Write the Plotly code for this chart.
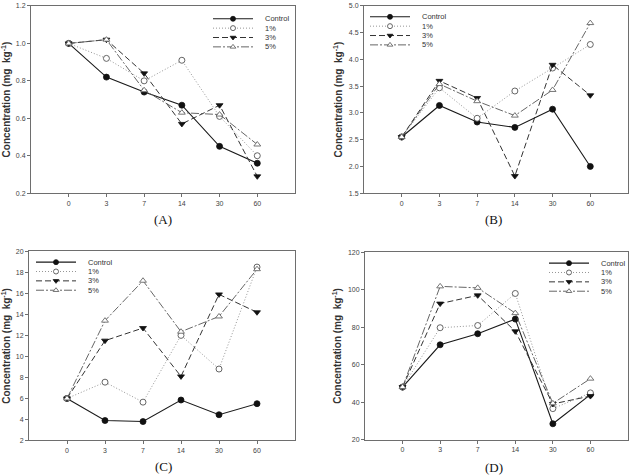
import plotly.graph_objects as go

days = ["0", "3", "7", "14", "30", "60"]
series_names = ["Control", "1%", "3%", "5%"]

a_control = [1.00, 0.82, 0.74, 0.67, 0.45, 0.36]
a_1 = [1.00, 0.92, 0.80, 0.91, 0.61, 0.40]
a_3 = [1.00, 1.02, 0.84, 0.57, 0.67, 0.29]
a_5 = [1.00, 1.02, 0.75, 0.63, 0.62, 0.46]

b_control = [2.55, 3.14, 2.83, 2.73, 3.07, 2.00]
b_1 = [2.55, 3.47, 2.90, 3.41, 3.84, 4.28]
b_3 = [2.55, 3.60, 3.28, 1.82, 3.90, 3.33]
b_5 = [2.55, 3.54, 3.22, 2.95, 3.43, 4.68]

c_control = [6.0, 3.9, 3.8, 5.85, 4.45, 5.5]
c_1 = [6.0, 7.55, 5.65, 12.0, 8.8, 18.5]
c_3 = [6.0, 11.5, 12.7, 8.1, 15.9, 14.2]
c_5 = [6.0, 13.4, 17.2, 12.35, 13.8, 18.3]

d_control = [48.0, 70.6, 76.5, 84.3, 28.4, 44.0]
d_1 = [48.0, 79.7, 80.9, 98.0, 36.5, 44.9]
d_3 = [48.0, 92.6, 97.0, 77.8, 39.0, 43.2]
d_5 = [48.0, 101.8, 101.0, 87.5, 39.3, 52.5]

panels = [
    dict(label="(A)", data=[a_control, a_1, a_3, a_5], yr=[0.2, 1.2], dt=0.2, fmt=".1f"),
    dict(label="(B)", data=[b_control, b_1, b_3, b_5], yr=[1.5, 5.0], dt=0.5, fmt=".1f"),
    dict(label="(C)", data=[c_control, c_1, c_3, c_5], yr=[2, 20], dt=2, fmt="d"),
    dict(label="(D)", data=[d_control, d_1, d_3, d_5], yr=[20, 120], dt=20, fmt="d"),
]

W, H = 629, 476
# panel frames in pixels: left, right, top, bottom
frames = [(31, 295, 2, 192), (364, 628, 2, 192), (29, 295, 251, 443), (365, 628, 252, 442)]
label_pos = [(163, 219), (493, 219), (163, 469), (494, 470)]
legend_pos = [(213, 15), (370, 13), (36, 262), (549, 263)]

styles = [
    dict(line=dict(color="#1a1a1a", width=1.1, dash="solid"),
         marker=dict(symbol="circle", color="#111111", line=dict(color="#111111", width=0.8))),
    dict(line=dict(color="#8a8a8a", width=0.9, dash="1px,2px"),
         marker=dict(symbol="circle", color="white", line=dict(color="#555555", width=0.9))),
    dict(line=dict(color="#333333", width=1.0, dash="6px,3px"),
         marker=dict(symbol="triangle-down", color="#111111", line=dict(color="#111111", width=0.8))),
    dict(line=dict(color="#555555", width=0.9, dash="8px,2px,2px,2px"),
         marker=dict(symbol="triangle-up", color="white", line=dict(color="#666666", width=0.9))),
]

fig = go.Figure()
xs = list(range(1, len(days) + 1))

for i, p in enumerate(panels):
    n = i + 1
    xa = "x" if n == 1 else f"x{n}"
    ya = "y" if n == 1 else f"y{n}"
    for s, (name, vals) in enumerate(zip(series_names, p["data"])):
        st = styles[s]
        fig.add_trace(go.Scatter(
            x=xs, y=vals, name=name, mode="lines+markers", xaxis=xa, yaxis=ya,
            line=st["line"], marker=dict(size=6, **st["marker"]), showlegend=False))
    l, r, t, b = frames[i]
    dom_x = [l / W, r / W]
    dom_y = [(H - b) / H, (H - t) / H]
    axis_common = dict(showline=True, linecolor="#6e6e6e", linewidth=1, mirror=True,
                       showgrid=False, zeroline=False, ticks="outside", ticklen=3,
                       tickcolor="#6e6e6e", tickfont=dict(family="Liberation Sans", size=7, color="#444444"))
    fig.layout[f"xaxis{'' if n == 1 else n}"] = dict(
        domain=dom_x, anchor=ya, range=[0, 7], tickvals=xs, ticktext=days, **axis_common)
    fig.layout[f"yaxis{'' if n == 1 else n}"] = dict(
        domain=dom_y, anchor=xa, range=p["yr"], dtick=p["dt"], tick0=p["yr"][0], tickformat=p["fmt"],
        title=dict(text="<b>Concentration (mg  kg<sup>-1</sup>)</b>", standoff=4,
                   font=dict(family="Liberation Sans", size=10, color="#333333")),
        **axis_common)
    lx, ly = label_pos[i]
    fig.add_annotation(x=lx / W, y=(H - ly) / H, xref="paper", yref="paper", text=p["label"],
                       xanchor="center", yanchor="middle",
                       showarrow=False, font=dict(family="Liberation Serif", size=13, color="#111111"))

# overlay pixel axis for legend keys
fig.layout["xaxis5"] = dict(domain=[0, 1], range=[0, W], visible=False, anchor="y5", fixedrange=True)
fig.layout["yaxis5"] = dict(domain=[0, 1], range=[H, 0], visible=False, anchor="x5", fixedrange=True)
for i in range(4):
    x0, y0 = legend_pos[i]
    for s, name in enumerate(series_names):
        st = styles[s]
        yy = y0 + s * 9.5
        fig.add_trace(go.Scatter(x=[x0, x0 + 40], y=[yy, yy], mode="lines", xaxis="x5", yaxis="y5",
                                 line=st["line"], showlegend=False, hoverinfo="skip"))
        fig.add_trace(go.Scatter(x=[x0 + 20], y=[yy], mode="markers", xaxis="x5", yaxis="y5",
                                 marker=dict(size=5, **st["marker"]), showlegend=False, hoverinfo="skip"))
        fig.add_annotation(x=x0 + 50, y=yy, xref="x5", yref="y5", text=name, showarrow=False,
                           xanchor="left", yanchor="middle",
                           font=dict(family="Liberation Sans", size=7.5, color="#333333"))

fig.update_layout(width=W, height=H, margin=dict(l=0, r=0, t=0, b=0),
                  paper_bgcolor="white", plot_bgcolor="rgba(0,0,0,0)", showlegend=False)
fig.write_html("out.html")
